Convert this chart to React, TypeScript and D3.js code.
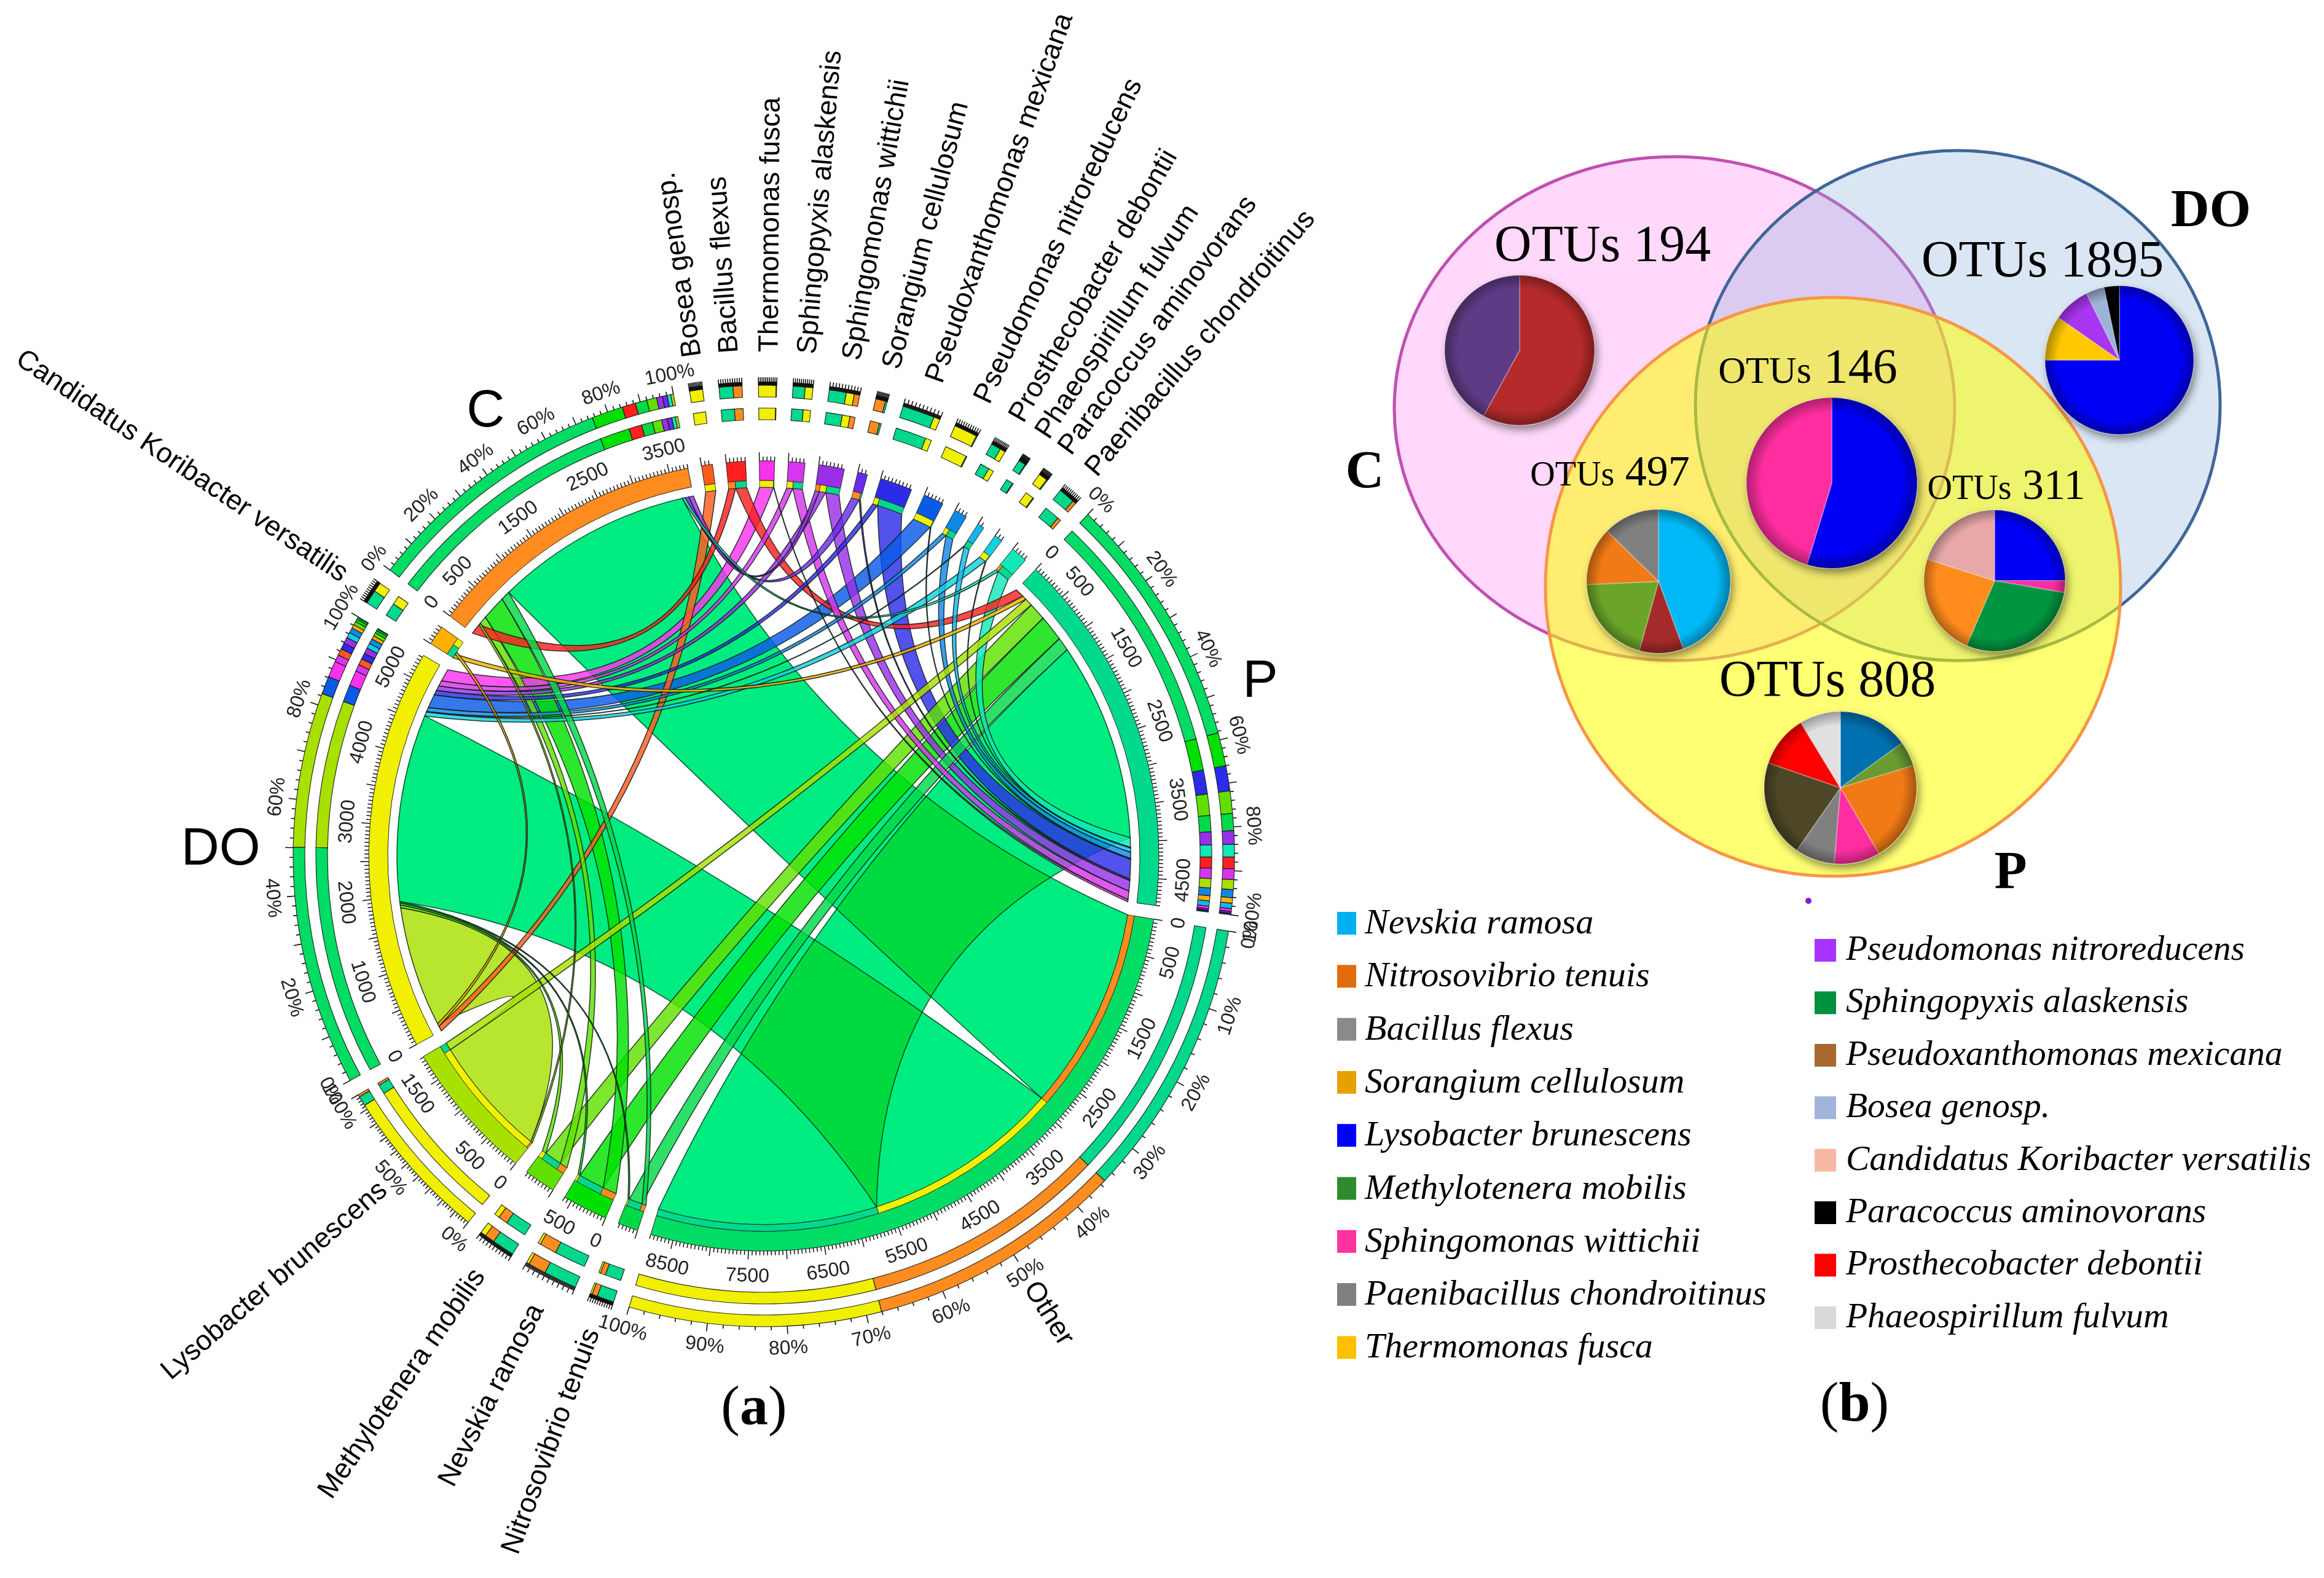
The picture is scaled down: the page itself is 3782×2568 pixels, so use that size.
import * as d3 from "d3";

// chord panel
const CX = 1243;
const CY = 1393;
const START_ANGLE = -52.6;
const GAP = 2;

const segmentIds = ["C", "Bos", "Bac", "The", "Spx", "Spm", "Sor", "Pxa", "Pse", "Pro", "Pha", "Par", "Pae", "P", "Oth", "Nit", "Nev", "Met", "Lys", "DO", "Can"];
const segmentNames = ["C", "Bosea genosp.", "Bacillus flexus", "Thermomonas fusca", "Sphingopyxis alaskensis", "Sphingomonas wittichii", "Sorangium cellulosum", "Pseudoxanthomonas mexicana", "Pseudomonas nitroreducens", "Prosthecobacter debontii", "Phaeospirillum fulvum", "Paracoccus aminovorans", "Paenibacillus chondroitinus", "P", "Other", "Nitrosovibrio tenuis", "Nevskia ramosa", "Methylotenera mobilis", "Lysobacter brunescens", "DO", "Candidatus Koribacter versatilis"];
const segmentSizes = [3750, 145, 255, 200, 220, 340, 130, 430, 270, 170, 90, 110, 220, 4850, 8800, 270, 600, 420, 1860, 5330, 260];
const segmentColors = ["#ff8c1e", "#ff5a1e", "#ff2020", "#fa32ee", "#d636ee", "#9a2fe8", "#6a2cec", "#2c2ce8", "#0a5ae8", "#1088e8", "#10b8ee", "#10d0e0", "#10e8b8", "#00d88c", "#00dc64", "#00d848", "#00e000", "#60e000", "#a8e000", "#f0f000", "#ffb000"];
const siteIds = ["C", "P", "DO"];

type Link = [string, number];
const linksC: Link[] = [["Bac", 150], ["Lys", 30], ["Met", 110], ["Nev", 350], ["Nit", 130], ["Oth", 2820], ["Pae", 40], ["Sor", 55], ["Spm", 65]];
const linksP: Link[] = [["Bac", 130], ["Can", 60], ["Lys", 110], ["Met", 250], ["Nev", 370], ["Nit", 190], ["Oth", 2830], ["Pae", 140], ["Par", 8], ["Pha", 60], ["Pro", 90], ["Pse", 10], ["Pxa", 280], ["Sor", 20], ["Spm", 150], ["Spx", 120], ["The", 30]];
const linksDO: Link[] = [["Bos", 75], ["Can", 40], ["Lys", 1725], ["Met", 40], ["Nev", 30], ["Nit", 20], ["Oth", 2670], ["Par", 60], ["Pha", 8], ["Pro", 60], ["Pse", 200], ["Pxa", 70], ["Spm", 70], ["Spx", 80], ["The", 180]];
const linksOther: Link[] = [["C", 2880], ["DO", 2810], ["P", 3110]];
const linksSpecies: Record<string, Link[]> = {
  Bos: [["DO", 145]],
  Bac: [["C", 100], ["P", 155]],
  The: [["DO", 195], ["P", 5]],
  Spx: [["DO", 85], ["P", 135]],
  Spm: [["C", 60], ["DO", 90], ["P", 190]],
  Sor: [["C", 110], ["P", 20]],
  Pxa: [["DO", 70], ["P", 360]],
  Pse: [["DO", 260], ["P", 10]],
  Pro: [["DO", 60], ["P", 110]],
  Pha: [["DO", 8], ["P", 82]],
  Par: [["DO", 100], ["P", 10]],
  Pae: [["C", 40], ["P", 180]],
  Nit: [["C", 60], ["P", 190], ["DO", 20]],
  Nev: [["C", 200], ["P", 370], ["DO", 30]],
  Met: [["C", 110], ["P", 250], ["DO", 60]],
  Lys: [["C", 25], ["DO", 1725], ["P", 110]],
  Can: [["P", 60], ["DO", 40]],
};

const tickLabels: Record<string, number[]> = {
  C: [0, 500, 1500, 2500, 3500],
  P: [0, 500, 1500, 2500, 3500, 4500],
  Oth: [0, 500, 1500, 2500, 3500, 4500, 5500, 6500, 7500, 8500],
  Nev: [0, 500],
  Lys: [0, 500, 1500],
  DO: [0, 1000, 2000, 3000, 4000, 5000],
};
const percentSteps: Record<string, number> = { C: 20, P: 20, DO: 20, Oth: 10, Lys: 50 };

// venn panel
const vennSets = [
  { label: "C", cx: 2725, cy: 665, rx: 456, ry: 410, fill: "#ffd8fb", fillOpacity: 1, stroke: "#c050b0" },
  { label: "DO", cx: 3186, cy: 660, rx: 427, ry: 415, fill: "#8bafdc", fillOpacity: 0.31, stroke: "#3f6699" },
  { label: "P", cx: 2983, cy: 955, rx: 468, ry: 471, fill: "#ffff00", fillOpacity: 0.55, stroke: "#f79646" },
];
const pies = [
  { cx: 2473, cy: 570, r: 122, values: [58, 42], colors: ["#b52a2a", "#5f3a85"] },
  { cx: 3449, cy: 586, r: 121, values: [75, 9.7, 8, 4, 3.3], colors: ["#0000f5", "#ffc800", "#a836f0", "#9db2d6", "#000000"] },
  { cx: 2981, cy: 786, r: 139, values: [54.7, 45.3], colors: ["#0000f5", "#ff2fa0"] },
  { cx: 2699, cy: 946, r: 117, values: [44.4, 9.9, 20, 13, 12.7], colors: ["#00b8f5", "#a52a2a", "#6aa52a", "#f07a14", "#808080"] },
  { cx: 3246, cy: 945, r: 115, values: [25, 2.7, 28.8, 23.4, 20.1], colors: ["#0000f5", "#ff2fa0", "#009640", "#ff8c1e", "#e8a8a8"] },
  { cx: 2995, cy: 1282, r: 124, values: [15, 5.3, 21.3, 9.7, 8.4, 20.6, 11, 8.7], colors: ["#0070b0", "#6a9a30", "#f07a14", "#ff2fa0", "#808080", "#4e4628", "#ff0000", "#e0e0e0"] },
];
const otuLabels = [
  { x: 2608, y: 425, prefix: "OTUs", value: "194", size: 84, prefixSize: 84 },
  { x: 3324, y: 450, prefix: "OTUs", value: "1895", size: 84, prefixSize: 84 },
  { x: 2942, y: 623, prefix: "OTUs", value: "146", size: 80, prefixSize: 62 },
  { x: 2620, y: 790, prefix: "OTUs", value: "497", size: 70, prefixSize: 56 },
  { x: 3265, y: 812, prefix: "OTUs", value: "311", size: 70, prefixSize: 56 },
  { x: 2974, y: 1133, prefix: "OTUs", value: "808", size: 84, prefixSize: 84 },
];
const vennLetters = [
  { text: "DO", x: 3598, y: 368 },
  { text: "C", x: 2221, y: 793 },
  { text: "P", x: 3272, y: 1445 },
];

const legendLeft = ["Nevskia ramosa", "Nitrosovibrio tenuis", "Bacillus flexus", "Sorangium cellulosum", "Lysobacter brunescens", "Methylotenera mobilis", "Sphingomonas wittichii", "Paenibacillus chondroitinus", "Thermomonas fusca"];
const legendLeftColors = ["#00b0f0", "#e36c0a", "#8a8a8a", "#e8a000", "#0000ff", "#2e8b2e", "#ff33a0", "#808080", "#ffc000"];
const legendRight = ["Pseudomonas nitroreducens", "Sphingopyxis alaskensis", "Pseudoxanthomonas mexicana", "Bosea genosp.", "Candidatus Koribacter versatilis", "Paracoccus aminovorans", "Prosthecobacter debontii", "Phaeospirillum fulvum"];
const legendRightColors = ["#a833ff", "#00903c", "#a86830", "#a0b4dc", "#f8b8a4", "#000000", "#ff0000", "#d9d9d9"];

const allLinks: Record<string, Link[]> = { C: linksC, P: linksP, DO: linksDO, Oth: linksOther, ...linksSpecies };
const rad = (deg: number) => (deg * Math.PI) / 180;
const polar = (deg: number, r: number): [number, number] => [r * Math.sin(rad(deg)), -r * Math.cos(rad(deg))];
const sans = "'Liberation Sans', Arial, sans-serif";
const serif = "'Liberation Serif', 'Times New Roman', serif";

// degrees per unit, same for every segment
const unit = (360 - GAP * segmentSizes.length) / d3.sum(segmentSizes);
let cursor = START_ANGLE;
const segments = segmentIds.map((id, i) => {
  const size = segmentSizes[i];
  const scale = d3.scaleLinear().domain([0, size]).range([cursor, cursor + size * unit]);
  cursor += size * unit + GAP;
  return { id, name: segmentNames[i], size, color: segmentColors[i], scale, site: siteIds.includes(id) };
});
const segById = new Map(segments.map((s) => [s.id, s]));

// cumulative position of each link end inside its segment
const ends = new Map<string, { from: number; to: number }>();
Object.entries(allLinks).forEach(([id, list]) => {
  let pos = 0;
  list.forEach(([other, v]) => {
    ends.set(`${id}|${other}`, { from: pos, to: pos + v });
    pos += v;
  });
});

const ribbons = Object.entries(allLinks)
  .filter(([id]) => !siteIds.includes(id))
  .flatMap(([id, list]) => list.map(([site, v]) => ({ species: id, site, value: v })))
  .sort((a, b) => b.value - a.value);

// control point sits further from the centre the closer the two ends are
const ctrlRadius = d3.scalePow().exponent(1.3).domain([0, 180]).range([340, 0]);

function ribbonPath(species: string, site: string) {
  const a = segById.get(species)!;
  const b = segById.get(site)!;
  const ea = ends.get(`${species}|${site}`)!;
  const eb = ends.get(`${site}|${species}`)!;
  const a0 = a.scale(ea.from), a1 = a.scale(ea.to);
  const b0 = b.scale(eb.from), b1 = b.scale(eb.to);
  const ra = 600, rb = 597;
  const ctrl = (p: number, q: number): [number, number] => {
    const [x1, y1] = polar(p, 1), [x2, y2] = polar(q, 1);
    const m = Math.atan2(x1 + x2, -(y1 + y2)) * (180 / Math.PI);
    let span = Math.abs(((p - q) % 360 + 360) % 360);
    if (span > 180) span = 360 - span;
    return polar(m, ctrlRadius(span));
  };
  const p = d3.path();
  const [sx, sy] = polar(a0, ra);
  p.moveTo(sx, sy);
  p.arc(0, 0, ra, rad(a0 - 90), rad(a1 - 90));
  const c1 = ctrl(a1, b0);
  const t1 = polar(b0, rb);
  p.quadraticCurveTo(c1[0], c1[1], t1[0], t1[1]);
  p.arc(0, 0, rb, rad(b0 - 90), rad(b1 - 90));
  const c2 = ctrl(b1, a0);
  p.quadraticCurveTo(c2[0], c2[1], sx, sy);
  p.closePath();
  return p.toString();
}

const arcGen = d3.arc<{ innerRadius: number; outerRadius: number; startAngle: number; endAngle: number }>();
const band = (r0: number, r1: number, d0: number, d1: number) =>
  arcGen({ innerRadius: r0, outerRadius: r1, startAngle: rad(d0), endAngle: rad(d1) }) ?? "";

const tangent = (deg: number) => {
  const a = ((deg % 360) + 360) % 360;
  return a > 90 && a < 270 ? a - 180 : a;
};

function ChordPanel() {
  return (
    <g transform={`translate(${CX},${CY})`} fontFamily={sans} fill="#111">
      <g style={{ isolation: "isolate" }}>
        {ribbons.filter((r) => r.species === "Oth").map((r) => (
          <path
            key={r.species + r.site}
            d={ribbonPath(r.species, r.site)}
            fill="#00ec80"
            stroke="#0a5a34"
            strokeWidth={1.6}
            style={{ mixBlendMode: "multiply" }}
          />
        ))}
      </g>
      {ribbons.filter((r) => r.species !== "Oth").map((r) => (
        <path
          key={r.species + r.site}
          d={ribbonPath(r.species, r.site)}
          fill={segById.get(r.species)!.color}
          fillOpacity={0.82}
          stroke="#0a1a12"
          strokeOpacity={0.85}
          strokeWidth={1.5}
        />
      ))}
      {segments.map((s) => {
        const [d0, d1] = s.scale.range();
        const list = allLinks[s.id];
        const sorted = [...list].sort((a, b) => b[1] - a[1]);
        const total = d3.sum(list, (d) => d[1]);
        const share = d3.scaleLinear().domain([0, total]).range([d0, d1]);
        let acc = 0;
        const stack = sorted.map(([other, v]) => {
          const from = acc;
          acc += v;
          return { other, from, to: acc };
        });
        const pct = d3.scaleLinear().domain([0, 100]).range([d0, d1]);
        const step = percentSteps[s.id];
        return (
          <g key={s.id}>
            <path d={band(s.site ? 612 : 611, 643, d0, d1)} fill={s.color} stroke="#222" strokeWidth={1} />
            {!s.site &&
              list.map(([other, v], i) => {
                const e = ends.get(`${s.id}|${other}`)!;
                return (
                  <path
                    key={other + i}
                    d={band(600, 611, share(e.from), share(e.to))}
                    fill={segById.get(other)!.color}
                    stroke="#222"
                    strokeWidth={0.8}
                  />
                );
              })}
            {[[710, 729], [747, 766]].map(([r0, r1]) =>
              stack.map((t) => (
                <path
                  key={`${r0}${t.other}`}
                  d={band(r0, r1, share(t.from), share(t.to))}
                  fill={segById.get(t.other)!.color}
                  stroke="#111"
                  strokeOpacity={0.85}
                  strokeWidth={1.2}
                />
              ))
            )}
            {d3.range(0, s.size + 1, 50).map((v) => {
              const a = s.scale(v);
              const [x1, y1] = polar(a, 643);
              const [x2, y2] = polar(a, v % 500 === 0 ? 657 : 650);
              return <line key={v} x1={x1} y1={y1} x2={x2} y2={y2} stroke="#111" strokeWidth={1.5} />;
            })}
            {d3.range(0, 101, 2).map((v) => {
              const a = pct(v);
              const [x1, y1] = polar(a, 766);
              const [x2, y2] = polar(a, v % 10 === 0 ? 779 : 772);
              return <line key={v} x1={x1} y1={y1} x2={x2} y2={y2} stroke="#111" strokeWidth={1.6} />;
            })}
            {(tickLabels[s.id] ?? []).map((v) => {
              const a = s.scale(v);
              const [x, y] = polar(a, 682);
              return (
                <text key={v} transform={`translate(${x},${y}) rotate(${tangent(a)})`} textAnchor="middle" dy="0.35em" fontSize={32} fill="#222">
                  {v}
                </text>
              );
            })}
            {step &&
              d3.range(0, 101, step).map((v) => {
                const a = pct(v);
                const [x, y] = polar(a, 800);
                return (
                  <text key={v} transform={`translate(${x},${y}) rotate(${tangent(a)})`} textAnchor="middle" dy="0.35em" fontSize={32} fill="#222">
                    {v}%
                  </text>
                );
              })}
            <SegmentName s={s} mid={(d0 + d1) / 2} />
          </g>
        );
      })}
      <text x={1227 - CX} y={2318 - CY} textAnchor="middle" fontFamily={serif} fontSize={92} fill="#000">
        (<tspan fontWeight="bold">a</tspan>)
      </text>
    </g>
  );
}

function SegmentName({ s, mid }: { s: { id: string; name: string; site: boolean }; mid: number }) {
  if (s.site) {
    const [x, y] = polar(mid, s.id === "DO" ? 884 : 858);
    return (
      <text x={x} y={y} textAnchor="middle" dy="0.35em" fontSize={86} fill="#000">
        {s.name}
      </text>
    );
  }
  const a = ((mid % 360) + 360) % 360;
  // the two labels just left of the top still read outward
  const right = a < 180 || a > 340;
  return (
    <text
      transform={right ? `rotate(${a - 90}) translate(820,0)` : `rotate(${a + 90}) translate(-820,0)`}
      textAnchor={right ? "start" : "end"}
      dy="0.35em"
      fontSize={45.5}
      fill="#000"
    >
      {s.name}
    </text>
  );
}

const pieGen = d3.pie<number>().sort(null);

function VennPanel() {
  return (
    <g>
      {vennSets.map((v) => (
        <ellipse
          key={v.label}
          cx={v.cx}
          cy={v.cy}
          rx={v.rx}
          ry={v.ry}
          fill={v.fill}
          fillOpacity={v.fillOpacity}
          stroke={v.stroke}
          strokeWidth={5}
        />
      ))}
      {pies.map((p, i) => {
        const arc = d3.arc<d3.PieArcDatum<number>>().innerRadius(0).outerRadius(p.r);
        return (
          <g key={i} transform={`translate(${p.cx},${p.cy})`}>
            <g filter="url(#pieShadow)">
              {pieGen(p.values).map((d, j) => (
                <path key={j} d={arc(d) ?? ""} fill={p.colors[j]} stroke="#ffffff" strokeOpacity={0.25} strokeWidth={2} />
              ))}
            </g>
            <circle r={p.r} fill="url(#pieRim)" />
          </g>
        );
      })}
      {otuLabels.map((l) => (
        <text key={l.value} x={l.x} y={l.y} textAnchor="middle" fontFamily={serif} fontSize={l.size} fill="#000">
          <tspan fontSize={l.prefixSize}>{l.prefix}</tspan> {l.value}
        </text>
      ))}
      {vennLetters.map((l) => (
        <text key={l.text} x={l.x} y={l.y} textAnchor="middle" fontFamily={serif} fontWeight="bold" fontSize={87} fill="#000">
          {l.text}
        </text>
      ))}
      <circle cx={2943} cy={1466} r={5} fill="#7a1fd0" />
      {legendLeft.map((name, i) => (
        <g key={name}>
          <rect x={2176} y={1484 + i * 86.3} width={31} height={37} fill={legendLeftColors[i]} />
          <text x={2221} y={1519 + i * 86.3} fontFamily={serif} fontStyle="italic" fontSize={58} fill="#000">
            {name}
          </text>
        </g>
      ))}
      {legendRight.map((name, i) => (
        <g key={name}>
          <rect x={2953} y={1528 + i * 85.4} width={35} height={37} fill={legendRightColors[i]} />
          <text x={3004} y={1562 + i * 85.4} fontFamily={serif} fontStyle="italic" fontSize={57.5} fill="#000">
            {name}
          </text>
        </g>
      ))}
      <text x={3018} y={2312} textAnchor="middle" fontFamily={serif} fontSize={92} fill="#000">
        (<tspan fontWeight="bold">b</tspan>)
      </text>
    </g>
  );
}

export default function App() {
  return (
    <svg width={3782} height={2568} viewBox="0 0 3782 2568" style={{ position: "absolute", left: 0, top: 0, background: "#fff" }}>
      <defs>
        <filter id="pieShadow" x="-30%" y="-30%" width="160%" height="160%">
          <feDropShadow dx={4} dy={7} stdDeviation={7} floodColor="#000" floodOpacity={0.45} />
        </filter>
        <radialGradient id="pieRim">
          <stop offset="82%" stopColor="#000" stopOpacity={0} />
          <stop offset="100%" stopColor="#000" stopOpacity={0.32} />
        </radialGradient>
      </defs>
      <ChordPanel />
      <VennPanel />
    </svg>
  );
}
